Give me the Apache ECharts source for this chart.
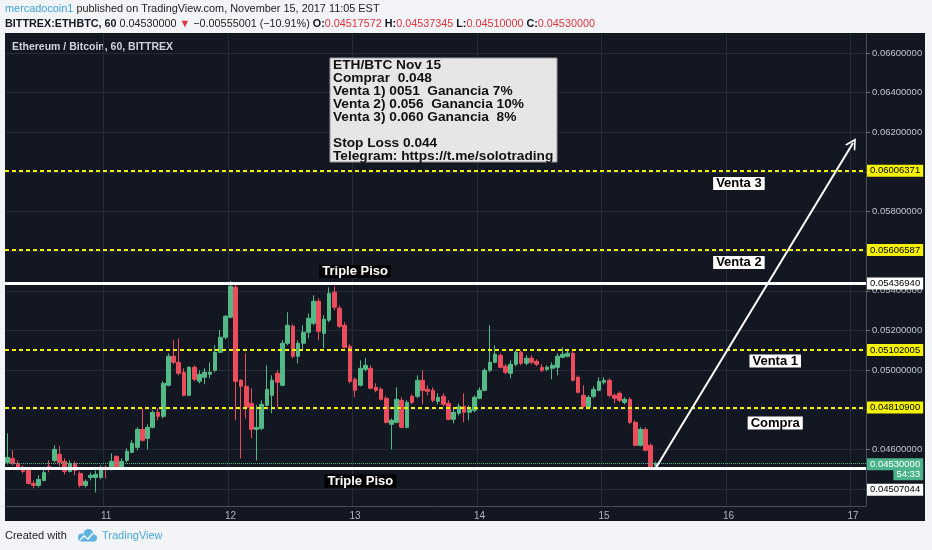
<!DOCTYPE html>
<html><head><meta charset="utf-8">
<script src="https://cdn.jsdelivr.net/npm/echarts@6/dist/echarts.min.js"></script>
<style>html,body{margin:0;padding:0;background:#f2f4f7;}#c{width:932px;height:550px;}</style>
</head><body><div id="c"></div><script>
// ---- time slots (hourly, BITTREX ETH/BTC 60) ----
const startHourUTC = Date.UTC(2017, 10, 10, 5);
const slotCount = 166;
const categories = [];
for (let k = 0; k < slotCount; k++) {
  const d = new Date(startHourUTC + k * 3600000);
  categories.push(d.toISOString().slice(0, 13).replace('T', ' ') + ':00');
}

// ---- OHLC values ----
const opens = [
0.045343,0.045545,0.045293,0.045091,0.044939,0.044283,0.044182,0.044434,0.045141,0.045444,
0.045748,0.045394,0.044889,0.045293,0.044788,0.044182,0.044586,0.044586,0.044586,0.045091,
0.045040,0.045647,0.045040,0.045444,0.045849,0.046101,0.047010,0.046556,0.047111,0.047869,
0.047667,0.049232,0.050697,0.050394,0.049889,0.048727,0.050141,0.049434,0.049636,0.049788,
0.049990,0.050899,0.051657,0.052667,0.054181,0.049485,0.049182,0.048323,0.047010,0.047061,
0.048222,0.048727,0.049838,0.049232,0.051354,0.052212,0.050697,0.051354,0.051909,0.052364,
0.053475,0.051858,0.052515,0.053929,0.053121,0.052263,0.051202,0.049535,0.049232,0.050040,
0.050091,0.049131,0.049030,0.048576,0.047263,0.047364,0.048475,0.047111,0.048677,0.048677,
0.049485,0.049030,0.048980,0.048424,0.048677,0.048323,0.047515,0.047818,0.048172,0.047869,
0.047970,0.048576,0.048980,0.049990,0.050394,0.050748,0.050192,0.049838,0.050293,0.050899,
0.050343,0.050596,0.050444,0.050141,0.050040,0.050091,0.050141,0.050647,0.050697,0.050849,
0.049636,0.048727,0.048121,0.048677,0.048980,0.049384,0.049485,0.048727,0.048828,0.048374,
0.048525,0.047364,0.046202,0.047010,0.046202,0.04517572];
const closes = [
0.045596,0.045293,0.044990,0.044889,0.044283,0.044182,0.044485,0.044838,0.045040,0.046000,
0.045343,0.044889,0.045293,0.044939,0.044182,0.044384,0.044687,0.044737,0.045040,0.045040,
0.045394,0.045040,0.045394,0.045899,0.046303,0.047010,0.046455,0.047111,0.047869,0.047667,
0.049333,0.050697,0.050394,0.049838,0.048727,0.050141,0.049535,0.049788,0.049889,0.049889,
0.050899,0.051657,0.052717,0.054232,0.049434,0.049182,0.048121,0.047010,0.047111,0.048273,
0.049030,0.049485,0.049384,0.051354,0.052263,0.050697,0.051354,0.051909,0.052616,0.053475,
0.051959,0.052566,0.053879,0.053172,0.052212,0.051152,0.049434,0.048980,0.050091,0.050242,
0.049081,0.048980,0.048525,0.047364,0.047465,0.048525,0.047111,0.048374,0.048374,0.049485,
0.048980,0.048929,0.048475,0.048626,0.048273,0.047515,0.047869,0.048172,0.047869,0.048020,
0.048626,0.048980,0.049990,0.050394,0.050798,0.050141,0.049889,0.050293,0.050899,0.050343,
0.050596,0.050394,0.050293,0.049990,0.050141,0.050242,0.050697,0.050798,0.050849,0.049485,
0.048879,0.048172,0.048626,0.049030,0.049434,0.049485,0.048727,0.048576,0.048475,0.048525,
0.047364,0.046202,0.047010,0.045950,0.045091,0.045300];
const lows = [
0.045242,0.045192,0.044939,0.044788,0.044232,0.044030,0.044081,0.044384,0.044838,0.045343,
0.045141,0.044737,0.044838,0.044687,0.044081,0.044081,0.044434,0.043828,0.044485,0.044535,
0.044939,0.044990,0.044990,0.045343,0.045798,0.045950,0.046404,0.046000,0.047061,0.047465,
0.047566,0.049182,0.050293,0.049737,0.048677,0.048677,0.049434,0.049333,0.049283,0.049586,
0.049889,0.050849,0.051556,0.052616,0.047465,0.045545,0.047566,0.046556,0.045444,0.046960,
0.048172,0.047818,0.048121,0.049182,0.051253,0.050596,0.050343,0.051000,0.051606,0.052263,
0.051505,0.051101,0.052414,0.053020,0.052111,0.051101,0.049333,0.048626,0.049182,0.049939,
0.049030,0.048879,0.048475,0.047313,0.046000,0.047313,0.047061,0.047061,0.048273,0.048576,
0.048273,0.048727,0.048374,0.048273,0.048172,0.047465,0.047313,0.047717,0.047364,0.047465,
0.047869,0.048525,0.048929,0.049889,0.050343,0.050091,0.049788,0.049586,0.050192,0.050242,
0.050242,0.050293,0.050192,0.049889,0.049939,0.049535,0.049737,0.050596,0.050647,0.049434,
0.048828,0.048071,0.048020,0.048576,0.048929,0.049283,0.048626,0.048323,0.048374,0.048273,
0.047263,0.046152,0.046152,0.045899,0.045040,0.045100];
const highs = [
0.046808,0.045950,0.045444,0.045192,0.045040,0.044434,0.044687,0.045040,0.045444,0.046202,
0.046152,0.045545,0.045444,0.045394,0.044889,0.044485,0.044838,0.044939,0.045192,0.045192,
0.045798,0.045697,0.045545,0.046051,0.046455,0.047111,0.048071,0.047263,0.047970,0.048071,
0.049434,0.050849,0.051505,0.051606,0.050091,0.050192,0.050242,0.049990,0.050091,0.050394,
0.051253,0.052010,0.052768,0.054500,0.054384,0.049535,0.050849,0.049081,0.048222,0.048475,
0.050242,0.049737,0.049990,0.051505,0.052919,0.052313,0.051505,0.052263,0.052868,0.053778,
0.053626,0.052768,0.054181,0.054232,0.053273,0.052414,0.051303,0.049636,0.050495,0.050596,
0.050242,0.049333,0.049131,0.048677,0.047566,0.049131,0.048626,0.048475,0.048778,0.049737,
0.049990,0.049232,0.049131,0.048828,0.048828,0.048475,0.048071,0.048323,0.048828,0.048222,
0.048727,0.049131,0.050091,0.052263,0.051253,0.050849,0.050293,0.050495,0.051000,0.051000,
0.050748,0.050748,0.050545,0.050293,0.050242,0.050394,0.050849,0.051152,0.051051,0.051000,
0.049737,0.049232,0.048727,0.049182,0.049636,0.049636,0.049586,0.048828,0.048929,0.048626,
0.048626,0.047465,0.047111,0.047111,0.046303,0.04537345];

// ---- drawn levels ----
const targetLevels = [0.06006371, 0.05606587, 0.05102005, 0.04810900]; // yellow dashed
const floorLevels = [0.05436940, 0.04507044];                          // white "Triple Piso"
const lastPrice = 0.04530000;
const countdown = '54:33';
const arrowFrom = [125, 0.04507];
const arrowTo = [163, 0.06146];

// ---- chart notes (text, slot index, price) ----
const noteTexts  = ['Triple Piso', 'Triple Piso', 'Venta 3', 'Venta 2', 'Venta 1', 'Compra'];
const noteSlots  = [67, 68, 141, 141, 148, 148];
const notePrices = [0.054975, 0.044403, 0.059415, 0.055429, 0.050458, 0.047330];
const noteDark   = [true, true, false, false, false, false];

const infoLines = ['ETH/BTC Nov 15', 'Comprar  0.048', 'Venta 1) 0051  Ganancia 7%',
  'Venta 2) 0.056  Ganancia 10%', 'Venta 3) 0.060 Ganancia  8%', '',
  'Stop Loss 0.044', 'Telegram: https://t.me/solotrading'];

const yTickMin = 0.044, yTickMax = 0.066, yTickStep = 0.002;

const FONT = '"Liberation Sans", Arial, sans-serif';
const UP = '#53b987', DOWN = '#eb4d5c';
const ohlc = opens.map((o, i) => [o, closes[i], lows[i], highs[i]]);
const isMidnight = v => v.slice(11, 13) === '00';
const dayOf = v => String(+v.slice(8, 10));
const fmt8 = v => Number(v).toFixed(8);

const lvlLabel = (bg, fg) => ({
  show: true, position: 'end', distance: 1, formatter: p => fmt8(p.value),
  backgroundColor: bg, color: fg, padding: [1, 3], fontSize: 9.5, lineHeight: 10, fontFamily: FONT
});

const markLineData = [];
targetLevels.forEach(v => markLineData.push({
  yAxis: v, lineStyle: {color: '#f5f200', type: [4, 3], width: 2}, label: lvlLabel('#f5f200', '#000')
}));
markLineData.push({yAxis: floorLevels[0], lineStyle: {color: '#fff', type: 'solid', width: 3}, label: lvlLabel('#fff', '#000')});
markLineData.push({yAxis: floorLevels[1], lineStyle: {color: '#fff', type: 'solid', width: 3},
  label: {show: true, position: 'end', distance: 1,
    formatter: p => '{e| }\n{w|' + fmt8(p.value) + '}',
    rich: {e: {height: 44, lineHeight: 44, fontSize: 2},
           w: {backgroundColor: '#fff', color: '#000', padding: [1, 3], fontSize: 9.5, lineHeight: 10, fontFamily: FONT}}}});
markLineData.push({yAxis: lastPrice, lineStyle: {color: '#4cb48a', type: 'dotted', width: 1},
  label: {show: true, position: 'end', distance: 1,
    formatter: p => '{e| }\n{g|' + fmt8(p.value) + '}\n{t|' + countdown + '}',
    rich: {e: {height: 12, lineHeight: 12, fontSize: 2},
           g: {backgroundColor: '#4cb48a', color: '#fff', padding: [1, 3], fontSize: 9.5, lineHeight: 10, fontFamily: FONT},
           t: {backgroundColor: '#4cb48a', color: '#fff', padding: [1, 3], fontSize: 9.5, lineHeight: 10, align: 'right', fontFamily: FONT}}}});
markLineData.push([
  {coord: arrowFrom, symbol: 'none', lineStyle: {color: '#fff', width: 2, type: 'solid'}, label: {show: false}},
  {coord: arrowTo, symbol: 'path://M5,0 L10,10 L8.4,10 L5,3.2 L1.6,10 L0,10 Z', symbolSize: [12, 11]}
]);

const markPointData = noteTexts.map((t, i) => ({
  coord: [noteSlots[i], notePrices[i]], value: t, symbol: 'circle', symbolSize: 0,
  label: {show: true, position: 'inside', formatter: t, fontFamily: FONT, fontWeight: 'bold', fontSize: 13,
    lineHeight: 13, padding: [0, 3], color: noteDark[i] ? '#fff' : '#000', backgroundColor: noteDark[i] ? '#000' : '#fff'}
}));

const chart = echarts.init(document.getElementById('c'));
chart.setOption({
  animation: false,
  backgroundColor: '#f2f4f7',
  grid: [{left: 5, right: 66, top: 34, bottom: 44}, {left: 5, right: 66, top: 53, bottom: 61}],
  xAxis: [
    {gridIndex: 0, type: 'category', data: categories, boundaryGap: true,
     axisLine: {show: true, lineStyle: {color: '#4a4e5a'}}, axisTick: {show: false},
     axisLabel: {interval: (i, v) => isMidnight(v), formatter: v => dayOf(v), color: '#b2b5be', fontSize: 10, margin: 5, fontFamily: FONT},
     splitLine: {show: true, interval: (i, v) => isMidnight(v), lineStyle: {color: '#262b38', width: 1}}},
    {gridIndex: 1, type: 'category', data: categories, boundaryGap: true, show: false}
  ],
  yAxis: [
    {gridIndex: 0, type: 'value', position: 'right', min: 0, max: 1,
     axisLine: {show: true, lineStyle: {color: '#4a4e5a'}}, axisTick: {show: false}, axisLabel: {show: false}, splitLine: {show: false}},
    {gridIndex: 1, type: 'value', position: 'right', min: yTickMin, max: yTickMax, interval: yTickStep,
     axisLine: {show: false}, axisTick: {show: true, length: 4, lineStyle: {color: '#6a6d78'}},
     axisLabel: {formatter: v => fmt8(v), color: '#c3c6ce', fontSize: 9.5, margin: 6, fontFamily: FONT},
     splitLine: {show: true, lineStyle: {color: '#262b38', width: 1}}}
  ],
  series: [{
    type: 'candlestick', xAxisIndex: 1, yAxisIndex: 1, data: ohlc, clip: false, barWidth: '80%',
    itemStyle: {color: UP, color0: DOWN, borderColor: UP, borderColor0: DOWN, borderWidth: 1},
    markLine: {silent: true, precision: 8, symbol: ['none', 'none'], animation: false, data: markLineData},
    markPoint: {silent: true, precision: 8, animation: false, data: markPointData}
  }],
  graphic: [
    {type: 'rect', z: -100, silent: true, shape: {x: 5, y: 33, width: 920, height: 488}, style: {fill: '#131722'}},
    {type: 'text', x: 5, y: 9, silent: true, style: {
      text: '{u|mercadocoin1} published on TradingView.com, November 15, 2017 11:05 EST',
      fill: '#222', font: '10.9px ' + FONT, verticalAlign: 'middle',
      rich: {u: {fill: '#3ea3dd', font: '10.9px ' + FONT}}}},
    {type: 'text', x: 5, y: 24, silent: true, style: {
      text: '{b|BITTREX:ETHBTC, 60} 0.04530000 {r|▼} −0.00555001 (−10.91%) {b|O:}{r|0.04517572} {b|H:}{r|0.04537345} {b|L:}{r|0.04510000} {b|C:}{r|0.04530000}',
      fill: '#222', font: '10.8px ' + FONT, verticalAlign: 'middle',
      rich: {b: {fill: '#131722', font: 'bold 10.8px ' + FONT}, r: {fill: '#e0333c', font: '10.8px ' + FONT}}}},
    {type: 'text', x: 12, y: 47, silent: true, style: {
      text: 'Ethereum / Bitcoin, 60, BITTREX', fill: '#d1d4dc', font: 'bold 10.5px ' + FONT, verticalAlign: 'middle'}},
    {type: 'rect', silent: true, z: 50, shape: {x: 330, y: 58, width: 227, height: 104},
     style: {fill: '#e6e6e6', stroke: '#9a9a9a', lineWidth: 1}},
    {type: 'text', x: 333, y: 59, z: 51, silent: true, style: {
      text: infoLines.join('\n'), fill: '#111', font: 'bold 13.7px ' + FONT, lineHeight: 13, verticalAlign: 'top'}},
    {type: 'text', x: 5, y: 536, silent: true, style: {text: 'Created with', fill: '#222', font: '11px ' + FONT, verticalAlign: 'middle'}},
    {type: 'circle', silent: true, shape: {cx: 82, cy: 537.5, r: 4}, style: {fill: '#5fb3e0'}},
    {type: 'circle', silent: true, shape: {cx: 88.5, cy: 534, r: 5}, style: {fill: '#5fb3e0'}},
    {type: 'circle', silent: true, shape: {cx: 93.5, cy: 538, r: 3.5}, style: {fill: '#5fb3e0'}},
    {type: 'rect', silent: true, shape: {x: 82, y: 537, width: 12, height: 4.5}, style: {fill: '#5fb3e0'}},
    {type: 'polyline', silent: true, shape: {points: [[80, 540], [84, 536], [88, 539], [93, 533]]},
     style: {stroke: '#fff', lineWidth: 1.4, fill: null}},
    {type: 'text', x: 102, y: 536, silent: true, style: {text: 'TradingView', fill: '#4aa8d8', font: '11px ' + FONT, verticalAlign: 'middle'}}
  ]
});
</script></body></html>
